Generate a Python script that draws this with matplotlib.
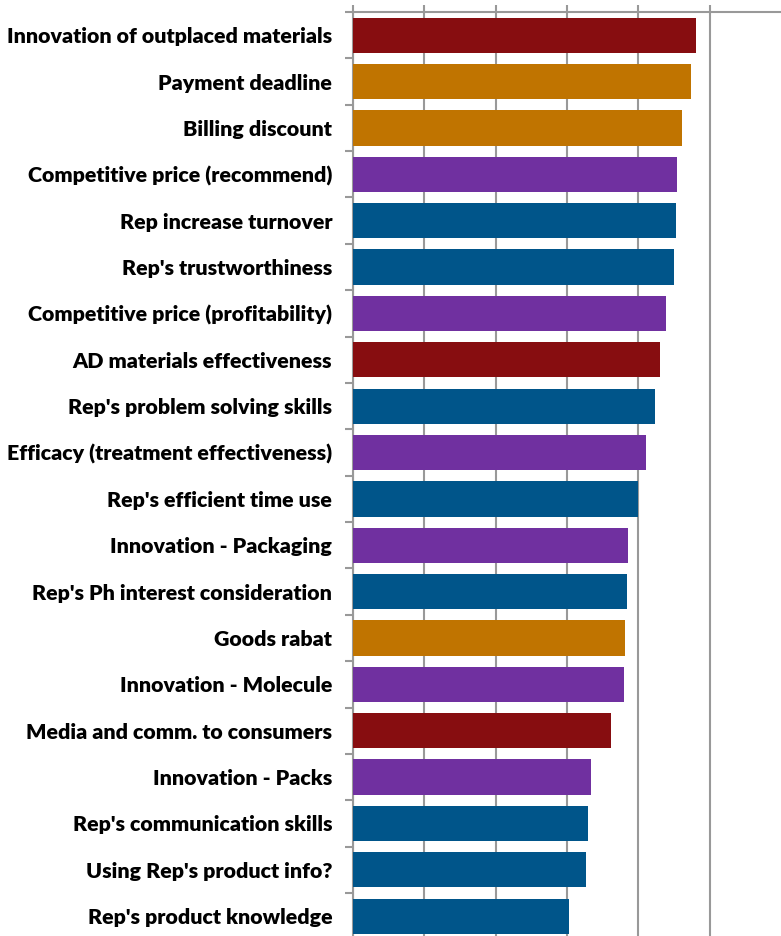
import matplotlib
matplotlib.use("Agg")
import matplotlib.pyplot as plt
import numpy as np
from matplotlib import font_manager

categories = [
    "Innovation of outplaced materials",
    "Payment deadline",
    "Billing discount",
    "Competitive price (recommend)",
    "Rep increase turnover",
    "Rep's trustworthiness",
    "Competitive price (profitability)",
    "AD materials effectiveness",
    "Rep's problem solving skills",
    "Efficacy (treatment effectiveness)",
    "Rep's efficient time use",
    "Innovation - Packaging",
    "Rep's Ph interest consideration",
    "Goods rabat",
    "Innovation - Molecule",
    "Media and comm. to consumers",
    "Innovation - Packs",
    "Rep's communication skills",
    "Using Rep's product info?",
    "Rep's product knowledge",
]
values = [4.81, 4.74, 4.61, 4.54, 4.53, 4.50, 4.39, 4.31, 4.24, 4.11,
          4.00, 3.86, 3.84, 3.81, 3.80, 3.62, 3.34, 3.30, 3.27, 3.03]
groups = ["materials", "terms", "terms", "product", "rep", "rep", "product",
          "materials", "rep", "product", "rep", "product", "rep", "terms",
          "product", "materials", "product", "rep", "rep", "rep"]
group_colors = {
    "materials": "#870D10",
    "terms": "#C07400",
    "product": "#7030A0",
    "rep": "#00558A",
}

names = {f.name for f in font_manager.fontManager.ttflist}
fam = "Lato" if "Lato" in names else "Liberation Sans"
weight = "heavy"

fig = plt.figure(figsize=(7.81, 9.36), dpi=100)
ax = fig.add_axes([353 / 781, -3.4 / 936, 1 - 353 / 781, (936 - 12 + 3.4) / 936])

# choose font size so the widest label spans ~326 px like the reference
renderer = fig.canvas.get_renderer()
probe = fig.text(0, 0, "Efficacy (treatment effectiveness)", fontfamily=fam,
                 fontweight=weight, fontsize=10)
w10 = probe.get_window_extent(renderer).width
probe.remove()
fs = 10 * 326 / w10

y = np.arange(len(categories))
ax.barh(y, values, height=0.76, color=[group_colors[g] for g in groups],
        zorder=3)
ax.set_ylim(len(categories) - 0.5, -0.5)
ax.set_xlim(0, 6)
ax.set_xticks([0, 1, 2, 3, 4, 5])
ax.xaxis.tick_top()
ax.tick_params(axis="x", which="major", direction="out", length=5,
               color="#999999", width=1.5, labeltop=False, labelbottom=False)
ax.grid(axis="x", color="#999999", linewidth=1.5, zorder=0)

ax.set_yticks(y)
ax.set_yticklabels(categories, fontfamily=fam, fontweight=weight, fontsize=fs)
ax.set_yticks(np.arange(len(categories) + 1) - 0.5, minor=True)
ax.tick_params(axis="y", which="major", length=0, pad=15)
ax.tick_params(axis="y", which="minor", length=6, color="#999999", width=1.5)

for s in ["right", "bottom"]:
    ax.spines[s].set_visible(False)
for s in ["top", "left"]:
    ax.spines[s].set_color("#999999")
    ax.spines[s].set_linewidth(1.5)

fig.savefig("out.png", dpi=100)
